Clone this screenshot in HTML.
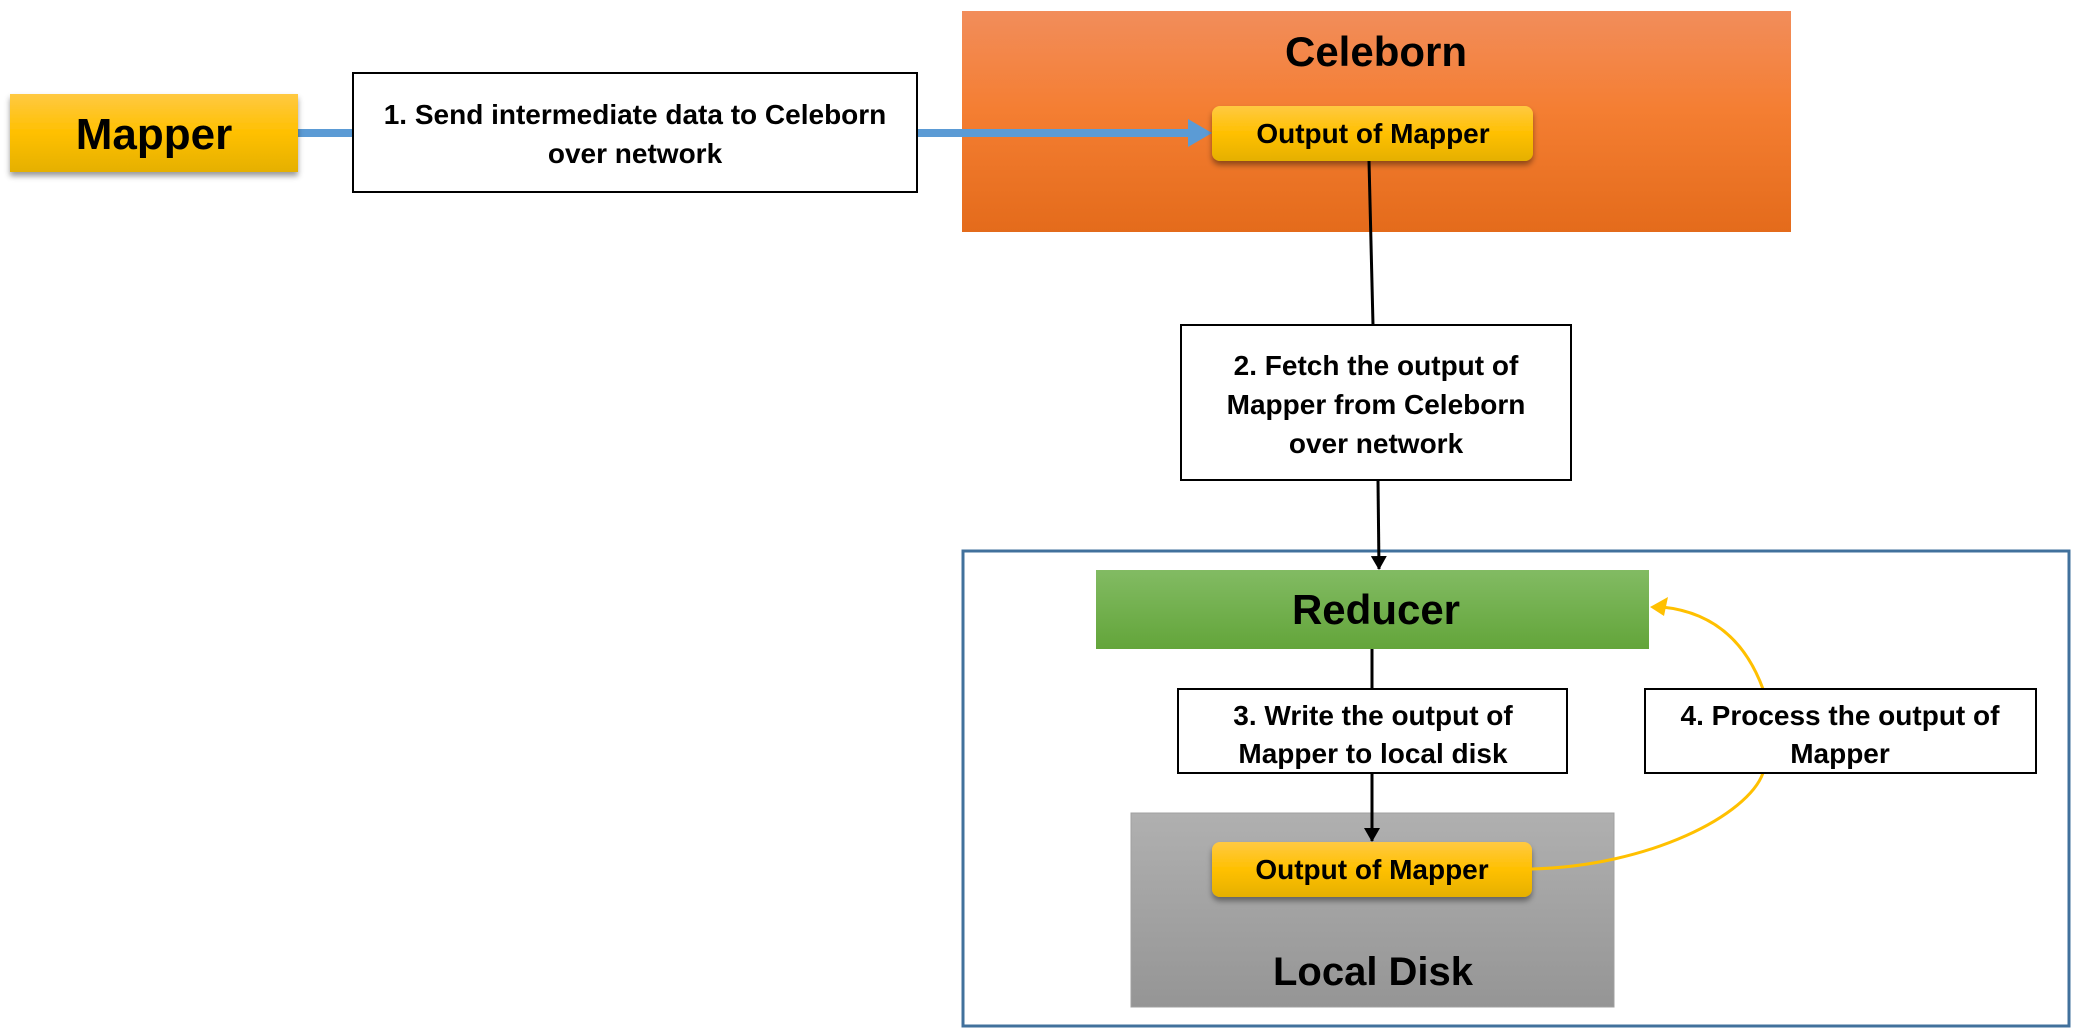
<!DOCTYPE html>
<html><head><meta charset="utf-8"><style>
html,body{margin:0;padding:0;background:#fff;}
svg{display:block;}
text{font-family:"Liberation Sans",sans-serif;font-weight:bold;fill:#000;text-anchor:middle;}
</style></head><body>
<svg width="2074" height="1030" viewBox="0 0 2074 1030" xmlns="http://www.w3.org/2000/svg">
<defs>
<linearGradient id="gy" x1="0" y1="0" x2="0" y2="1"><stop offset="0" stop-color="#ffc942"/><stop offset="0.5" stop-color="#ffc000"/><stop offset="1" stop-color="#e5b000"/></linearGradient>
<linearGradient id="go" x1="0" y1="0" x2="0" y2="1"><stop offset="0" stop-color="#f28d5b"/><stop offset="0.45" stop-color="#f47e32"/><stop offset="1" stop-color="#e46b1b"/></linearGradient>
<linearGradient id="gg" x1="0" y1="0" x2="0" y2="1"><stop offset="0" stop-color="#82bb63"/><stop offset="1" stop-color="#63a53a"/></linearGradient>
<linearGradient id="gd" x1="0" y1="0" x2="0" y2="1"><stop offset="0" stop-color="#b0b0b0"/><stop offset="1" stop-color="#959595"/></linearGradient>
<filter id="sh" x="-10%" y="-20%" width="120%" height="160%"><feDropShadow dx="0" dy="4" stdDeviation="3" flood-color="#000" flood-opacity="0.4"/></filter>
<marker id="ab" markerWidth="14" markerHeight="16" refX="13" refY="8" orient="auto" markerUnits="userSpaceOnUse"><path d="M0,0 L14,8 L0,16 z" fill="#000"/></marker>
</defs>

<rect x="962" y="11" width="829" height="221" fill="url(#go)"/>
<text x="1376" y="66" font-size="42">Celeborn</text>

<line x1="298" y1="133" x2="1195" y2="133" stroke="#5b9bd5" stroke-width="8"/>
<path d="M1188,119 L1212,133 L1188,147 z" fill="#5b9bd5"/>

<rect x="10" y="94" width="288" height="78" fill="url(#gy)" filter="url(#sh)"/>
<text x="154" y="149" font-size="44">Mapper</text>

<rect x="353" y="73" width="564" height="119" fill="#fff" stroke="#000" stroke-width="2"/>
<text x="635" y="124" font-size="28">1. Send intermediate data to Celeborn</text>
<text x="635" y="163" font-size="28">over network</text>

<rect x="1212" y="106" width="321" height="55" rx="8" fill="url(#gy)" filter="url(#sh)"/>
<text x="1373" y="143" font-size="28">Output of Mapper</text>

<line x1="1369" y1="161" x2="1373" y2="325" stroke="#000" stroke-width="3"/>

<rect x="1181" y="325" width="390" height="155" fill="#fff" stroke="#000" stroke-width="2"/>
<text x="1376" y="375" font-size="28">2. Fetch  the output of</text>
<text x="1376" y="414" font-size="28">Mapper from Celeborn</text>
<text x="1376" y="453" font-size="28">over network</text>

<rect x="963" y="551" width="1106" height="475" fill="none" stroke="#41719c" stroke-width="3"/>

<line x1="1378" y1="480" x2="1379" y2="569" stroke="#000" stroke-width="3" marker-end="url(#ab)"/>

<rect x="1096" y="570" width="553" height="79" fill="url(#gg)"/>
<text x="1376" y="624" font-size="42">Reducer</text>

<line x1="1372" y1="649" x2="1372" y2="689" stroke="#000" stroke-width="3"/>

<rect x="1131" y="813" width="483" height="194" fill="url(#gd)" stroke="#a0a0a0" stroke-width="1"/>
<text x="1373" y="985" font-size="40">Local Disk</text>

<line x1="1372" y1="773" x2="1372" y2="841" stroke="#000" stroke-width="3" marker-end="url(#ab)"/>

<rect x="1178" y="689" width="389" height="84" fill="#fff" stroke="#000" stroke-width="2"/>
<text x="1373" y="725" font-size="28">3. Write  the output of</text>
<text x="1373" y="763" font-size="28">Mapper to local disk</text>

<rect x="1212" y="842" width="320" height="55" rx="8" fill="url(#gy)" filter="url(#sh)"/>
<text x="1372" y="879" font-size="28">Output of Mapper</text>

<path d="M1532,869 C1650,866 1748,815 1763,773" fill="none" stroke="#ffc000" stroke-width="3"/>
<path d="M1763,689 C1745,640 1712,612 1662,607" fill="none" stroke="#ffc000" stroke-width="3"/>
<path d="M1650,607 L1668,597 L1664,616 z" fill="#ffc000"/>

<rect x="1645" y="689" width="391" height="84" fill="#fff" stroke="#000" stroke-width="2"/>
<text x="1840" y="725" font-size="28">4. Process the output of</text>
<text x="1840" y="763" font-size="28">Mapper</text>
</svg>
</body></html>
